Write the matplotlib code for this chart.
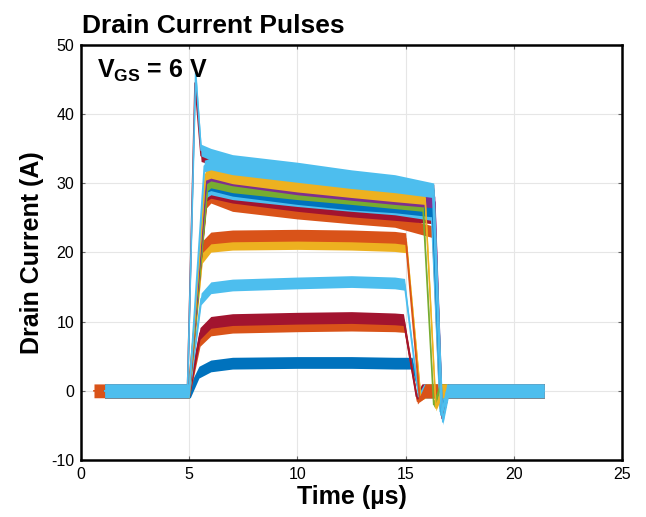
import numpy as np
import matplotlib
matplotlib.use("Agg")
import matplotlib.pyplot as plt

# --- data (time in us, current in A) ---
BLUE, ORANGE, YELLOW, PURPLE = "#0072BD", "#D95319", "#EDB120", "#7E2F8E"
GREEN, LBLUE, RED = "#77AC30", "#4DBEEE", "#A2142F"

colors     = [BLUE, ORANGE, RED, LBLUE, YELLOW, ORANGE,
              ORANGE, RED, LBLUE, BLUE, GREEN, PURPLE, YELLOW, RED, LBLUE, LBLUE]
t_start    = [1.1, 0.6, 1.1, 1.1, 1.1, 1.1,
              1.1, 1.1, 1.1, 1.1, 1.1, 1.1, 1.1, 1.1, 1.1, 1.1]
rise_start = [5.05, 5.0, 5.0, 5.0, 5.0, 5.0,
              4.95, 5.0, 5.0, 5.0, 5.0, 5.0, 5.0, 4.92, 5.0, 4.92]
spike_t    = [0, 0, 0, 0, 0, 0, 0, 0, 0, 0, 0, 0, 0, 5.27, 0, 5.3]
spike_i    = [0, 0, 0, 0, 0, 0, 0, 0, 0, 0, 0, 0, 0, 44.5, 0, 46.0]
rise_end_t = [5.45, 5.5, 5.5, 5.55, 5.6, 5.6,
              5.8, 5.8, 5.8, 5.75, 5.85, 5.8, 5.75, 5.55, 5.7, 5.55]
rise_end_i = [2.7, 7.3, 8.3, 13.3, 19.3, 20.8,
              27.3, 28.3, 28.8, 29.5, 29.8, 30.8, 31.3, 34.0, 32.5, 34.8]
plateau_t  = [6.0, 7.0, 10.0, 12.5, 14.5]
i_6        = [3.6, 8.8, 9.9, 14.9, 20.9, 22.1,
              28.0, 28.7, 29.2, 29.8, 30.2, 31.2, 31.6, 33.6, 32.8, 34.2]
i_7        = [4.0, 9.2, 10.3, 15.3, 21.2, 22.4,
              26.8, 28.0, 28.5, 29.0, 29.5, 30.5, 30.8, 32.6, 32.1, 33.3]
i_10       = [4.1, 9.4, 10.5, 15.6, 21.3, 22.5,
              25.7, 26.8, 27.5, 27.8, 28.5, 29.2, 29.6, 31.3, 31.0, 32.2]
i_12_5     = [4.1, 9.5, 10.6, 15.8, 21.2, 22.4,
              25.0, 26.0, 26.8, 27.0, 27.8, 28.4, 28.8, 30.4, 30.1, 31.1]
i_14_5     = [4.0, 9.4, 10.4, 15.6, 21.0, 22.2,
              24.5, 25.5, 26.3, 26.6, 27.2, 27.8, 28.2, 29.8, 29.5, 30.4]
fall_start = [15.3, 14.95, 14.9, 14.95, 15.05, 15.0,
              16.25, 16.3, 16.2, 16.25, 15.8, 16.35, 15.9, 16.3, 16.25, 16.3]
fall_i     = [4.0, 9.3, 10.3, 15.4, 20.8, 22.0,
              23.0, 25.0, 25.5, 26.0, 26.8, 27.3, 27.8, 29.0, 28.8, 29.2]
fall_end   = [15.65, 15.55, 15.5, 15.6, 15.7, 15.65,
              16.6, 16.65, 16.6, 16.65, 16.3, 16.7, 16.4, 16.7, 16.65, 16.72]
undershoot = [-0.5, -1.5, -0.8, -0.8, -1.0, -1.2,
              -2.5, -3.0, -3.0, -3.5, -2.0, -4.0, -2.5, -4.0, -3.5, -4.5]
t_stop = 21.4
NOISE_BASE, NOISE_TOP = 1.0, 0.85

plt.rcParams["font.family"] = ["Liberation Sans", "DejaVu Sans"]
plt.rcParams["axes.unicode_minus"] = False
plt.rcParams["mathtext.fontset"] = "custom"
plt.rcParams["mathtext.bf"] = "Liberation Sans:bold"
plt.rcParams["mathtext.rm"] = "Liberation Sans"

fig = plt.figure(figsize=(6.46, 5.17), dpi=100)
ax = fig.add_axes([81 / 646, 1 - 460 / 517, 541 / 646, 415 / 517])

plateau_vals = [i_6, i_7, i_10, i_12_5, i_14_5]
for k in range(len(colors)):
    t = [t_start[k], rise_start[k]]
    y = [0.0, 0.0]
    a = [NOISE_BASE, NOISE_BASE]
    if spike_i[k] > 0:
        t.append(spike_t[k]); y.append(spike_i[k]); a.append(0.3)
    t.append(rise_end_t[k]); y.append(rise_end_i[k]); a.append(NOISE_TOP)
    for tp, vals in zip(plateau_t, plateau_vals):
        if rise_end_t[k] < tp < fall_start[k]:
            t.append(tp); y.append(vals[k]); a.append(NOISE_TOP)
    t += [fall_start[k], fall_end[k], fall_end[k] + 0.25, t_stop]
    y += [fall_i[k], undershoot[k], 0.0, 0.0]
    a += [NOISE_TOP, 0.4, NOISE_BASE, NOISE_BASE]
    t, y, a = np.array(t), np.array(y), np.array(a)
    ax.fill_between(t, y - a, y + a, color=colors[k], lw=0, zorder=2 + k * 0.01)
    ax.plot(t, y, color=colors[k], lw=1.2, zorder=2 + k * 0.01)

ax.set_xlim(0, 25)
ax.set_ylim(-10, 50)
ax.set_xticks([0, 5, 10, 15, 20, 25])
ax.set_yticks([-10, 0, 10, 20, 30, 40, 50])
ax.grid(True, color="#e6e6e6", lw=0.8, zorder=0)
ax.set_axisbelow(True)
ax.tick_params(direction="in", length=3, width=0.8, color="#666666",
               top=True, right=True, labelsize=11.5, pad=5)
for s in ax.spines.values():
    s.set_linewidth(1.8)
    s.set_color("black")

ax.set_xlabel("Time (µs)", fontsize=18, fontweight="bold", labelpad=2)
ax.set_ylabel("Drain Current (A)", fontsize=18, fontweight="bold", labelpad=5)
fig.text(82 / 646, 1 - 33 / 517, "Drain Current Pulses", fontsize=19,
         fontweight="bold", va="baseline", ha="left")
ax.text(0.03, 0.92, r"$\mathbf{V}_{\mathbf{GS}}$ = 6 V",
        transform=ax.transAxes, fontsize=18, fontweight="bold",
        va="baseline", ha="left")

fig.savefig("out.png", dpi=100)
